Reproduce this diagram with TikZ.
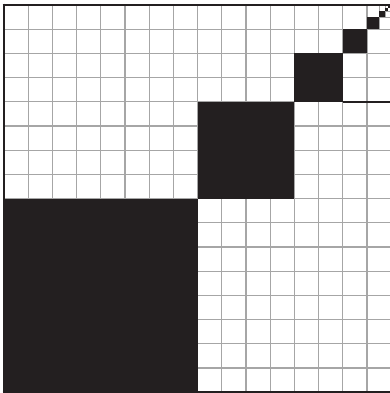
\documentclass[tikz,border=0pt]{standalone}
\definecolor{gridgrey}{HTML}{A6A6A6}
\definecolor{blockblack}{HTML}{231F20}
\begin{document}
\begin{tikzpicture}[x=1pt,y=-1pt,
  gridline/.style={draw=gridgrey,line width=1.2pt},
  fineline/.style={draw=gridgrey,line width=0.8pt},
  blk/.style={fill=blockblack},
  border/.style={draw=blockblack,line width=2.6pt},
  sepline/.style={draw=blockblack,line width=1.8pt}]
\useasboundingbox (0,0) rectangle (390,393);
\fill[white] (0,0) rectangle (390,393);
\begin{scope}
\clip (0,0) rectangle (390,393);
\pgfmathsetmacro{\cw}{24.2}
\foreach \i in {0,...,16} {
  \draw[gridline] ({4+\i*\cw},5) -- ({4+\i*\cw},392);
  \draw[gridline] (4,{5+\i*\cw}) -- (392,{5+\i*\cw});
}
% subdivision in the top-right cell
\draw[fineline] (379.1,5) -- (379.1,29.2);
\draw[fineline] (367,17.1) -- (392,17.1);
\draw[fineline] (385.15,5) -- (385.15,17.1);
\draw[fineline] (379.1,11.05) -- (392,11.05);
% recursive black squares
\fill[blk] (4,198.6) rectangle (197.6,392);
\fill[blk] (197.6,101.8) rectangle (294.4,198.6);
\fill[blk] (294.4,53.4) rectangle (342.8,101.8);
\fill[blk] (342.8,29.2) rectangle (367,53.4);
\fill[blk] (367,17.1) rectangle (379.1,29.2);
\fill[blk] (379.1,11.05) rectangle (385.15,17.1);
\fill[blk] (385.15,8.0) rectangle (388.2,11.05);
\fill[blk] (388.2,6.5) rectangle (389.7,8.0);
% separating line
\draw[sepline] (342.8,101.8) -- (392,101.8);
% borders
\draw[border] (2.7,5) -- (392,5);
\draw[border] (4,3.7) -- (4,393);
\draw[border] (2.7,392) -- (392,392);
\end{scope}
\end{tikzpicture}
\end{document}
